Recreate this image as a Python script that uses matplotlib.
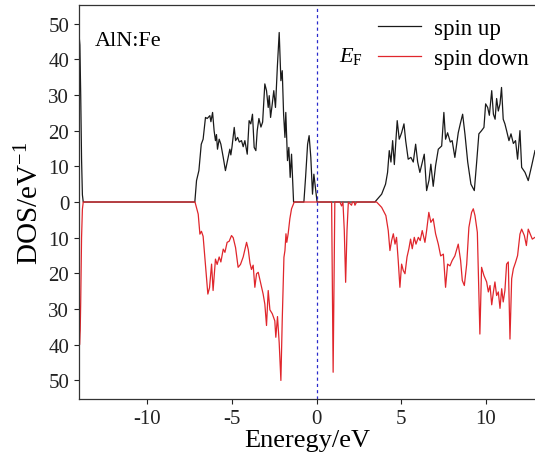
import matplotlib
matplotlib.use('Agg')
import matplotlib.pyplot as plt
from matplotlib.ticker import FuncFormatter

plt.rcParams['font.family'] = ['Liberation Serif', 'DejaVu Serif']
plt.rcParams['mathtext.fontset'] = 'custom'
plt.rcParams['mathtext.rm'] = 'Liberation Serif'
plt.rcParams['mathtext.it'] = 'Liberation Serif:italic'
plt.rcParams['axes.unicode_minus'] = False

# spin up DOS
e_up = [-14.05, -14.0, -13.95, -13.9, -13.85, -13.8, -7.2, -7.10, -6.96, -6.82, -6.71, -6.57,
        -6.47, -6.31, -6.25, -6.15, -6.06, -5.98, -5.92, -5.86, -5.76, -5.66, -5.52, -5.39,
        -5.23, -5.13, -5.07, -5.0, -4.87, -4.79, -4.67, -4.57, -4.44, -4.34, -4.24, -4.10,
        -3.99, -3.89, -3.79, -3.69, -3.59, -3.51, -3.41, -3.29, -3.19, -3.06, -2.96, -2.86,
        -2.80, -2.72, -2.62, -2.53, -2.43, -2.32, -2.21, -2.11, -2.03, -1.95, -1.87, -1.82,
        -1.72, -1.64, -1.56, -1.48, -1.36, -0.75, -0.65, -0.53, -0.44, -0.34, -0.24, -0.16,
        -0.06, 0.03, 3.45, 3.85, 4.08, 4.20, 4.30, 4.40, 4.50, 4.60, 4.77, 4.89, 5.03, 5.17,
        5.27, 5.42, 5.58, 5.72, 5.86, 5.98, 6.11, 6.37, 6.51, 6.65, 6.76, 6.90, 7.04, 7.20,
        7.40, 7.53, 7.63, 7.75, 7.91, 8.02, 8.18, 8.38, 8.50, 8.64, 8.78, 8.94, 9.13, 9.33,
        9.47, 9.60, 9.76, 9.90, 10.0, 10.12, 10.22, 10.36, 10.46, 10.56, 10.65, 10.75, 10.85,
        10.94, 11.04, 11.14, 11.24, 11.38, 11.50, 11.64, 11.77, 11.89, 12.03, 12.13, 12.33,
        12.52, 12.72, 12.92]
dos_up = [47, 44, 30, 12, 2, 0, 0, 6.0, 8.8, 16.2, 17.6, 23.7,
          23.4, 24.2, 22.5, 25.1, 20, 17.2, 18.9, 14.8, 17.6, 16.2, 12.5, 8.8,
          12.5, 14.8, 13.2, 15.5, 20.9, 17.2, 18.1, 16.8, 17.2, 15.5, 17.2, 13.4,
          22.8, 21.9, 24.6, 15.3, 14.4, 20, 23.4, 21, 22.4, 33.1, 31.2, 26.5,
          29.8, 23.7, 27.5, 31.2, 26.5, 37.8, 47.5, 34, 36.8, 24.6, 18.1, 25.1,
          11.6, 15.3, 6.9, 13.4, 0, 0, 6.9, 16.2, 18.6, 12.5, 2.2, 7.8,
          3.6, 0, 0, 2.2, 5, 8.3, 14.4, 11.2, 17.2, 10.5, 22.8, 17.6, 19.4, 21.9,
          17.2, 12, 12.5, 11.2, 16.2, 11.2, 8.3, 13.4, 3.2, 6.1, 10.6, 4.4, 10.2, 14.8,
          15.7, 25.1, 17.6, 19.4, 16.8, 17.2, 12.5, 19.4, 21.9, 24.6, 18.9, 11.2, 5, 3.2,
          11.2, 19.1, 20, 20.9, 27.5, 26.5, 24.3, 31.2, 24.6, 23.2, 29, 25.5, 27.5,
          32.1, 23.2, 21.9, 20, 17.2, 19.1, 16.4, 17.2, 12, 20, 9.7, 8.3,
          6, 10.1, 14.4]

# spin down DOS (plotted downwards)
e_dn = [-14.05, -14.02, -13.98, -13.95, -13.9, -13.85, -13.8, -7.19, -7.0, -6.90, -6.81, -6.71,
        -6.59, -6.43, -6.33, -6.21, -6.12, -5.98, -5.88, -5.76, -5.66, -5.52, -5.42, -5.29,
        -5.17, -5.03, -4.93, -4.79, -4.64, -4.50, -4.34, -4.14, -4.04, -3.94, -3.85, -3.75,
        -3.65, -3.55, -3.45, -3.29, -3.16, -3.06, -2.96, -2.86, -2.76, -2.62, -2.47, -2.41,
        -2.31, -2.21, -2.11, -2.03, -1.93, -1.87, -1.81, -1.76, -1.68, -1.58, -1.48, -1.32,
        0.89, 0.98, 1.08, 1.38, 1.48, 1.56, 1.64, 1.72, 1.80, 1.88, 2.07, 2.12, 2.22, 2.27,
        2.37, 3.55, 3.85, 4.00, 4.10, 4.24, 4.34, 4.44, 4.54, 4.64, 4.73, 4.83, 4.93, 5.03,
        5.13, 5.23, 5.35, 5.46, 5.56, 5.66, 5.78, 5.88, 6.02, 6.13, 6.25, 6.41, 6.51, 6.64,
        6.76, 6.90, 7.04, 7.20, 7.34, 7.50, 7.63, 7.75, 7.89, 8.02, 8.18, 8.38, 8.52, 8.62,
        8.74, 8.88, 9.01, 9.17, 9.27, 9.37, 9.51, 9.66, 9.76, 9.90, 10.06, 10.16, 10.26,
        10.36, 10.46, 10.55, 10.65, 10.75, 10.85, 10.95, 11.04, 11.14, 11.24, 11.34, 11.44,
        11.54, 11.64, 11.77, 11.89, 12.03, 12.13, 12.29, 12.41, 12.52, 12.64, 12.76, 12.92]
dos_dn = [-30, -40, -36, -28, -10, -2, 0, 0, -3.4, -9.0, -8.2, -9.6,
          -16.4, -25.8, -24, -17.4, -24.8, -16, -17.5, -15.4, -16.8, -13.2, -14.1, -11.3,
          -11, -9.4, -10.0, -12.8, -18.3, -17.5, -15.4, -11.3, -13.3, -17.1, -18.9, -17.7,
          -23.9, -20.1, -19.7, -23.1, -25.8, -28.6, -34.6, -24.8, -30.2, -31.3, -33.3, -37.9,
          -32.1, -39.5, -50, -33, -15.5, -13.6, -8.9, -11.3, -8.9, -4.7, -1.9, 0,
          0, -47.7, 0, 0, -1.1, 0, -8, -22.5, -8, 0, -0.9, 0, 0, -0.9,
          0, 0, -1.5, -2.9, -3.8, -8, -13.6, -10.8, -8.9, -11.8, -9.9, -16.4, -23.9, -17.4,
          -19.2, -20.1, -15.4, -13.1, -10.4, -13.1, -9.9, -11.8, -9.9, -10.8, -8, -11.3, -8, -2.9,
          -5.7, -4.7, -8.9, -11.8, -15.1, -14.6, -23.9, -17.4, -17.9, -16.4, -15.1, -11.8, -16.4, -22,
          -23.4, -17.4, -7.1, -2.9, -1.9, -3.8, -8.5, -37, -18.3, -20.6, -22.4, -25.2, -23.4,
          -28.8, -25.2, -22.4, -26.2, -25.2, -29.8, -24.3, -28, -24.8, -17.4, -16.8, -38.4,
          -21.5, -18.7, -16.9, -15, -9, -7.6, -9.4, -12.2, -7.6, -9, -10.4, -9.9]

yticks = [-50, -40, -30, -20, -10, 0, 10, 20, 30, 40, 50]
xticks = [-10, -5, 0, 5, 10]

fig = plt.figure(figsize=(5.35, 4.56), dpi=100)
ax = fig.add_axes([0.1477, 0.1228, 0.8523, 0.864])

ax.plot(e_up, dos_up, color='#1a1a1a', lw=0.9, label='spin up')
ax.plot(e_dn, dos_dn, color='#e0262c', lw=0.9, label='spin down')
ax.axvline(0, color='#2a2acc', ls=(0, (2.5, 2.5)), lw=0.9)

ax.set_xlim(-14.05, 12.92)
ax.set_ylim(-55.2, 55.2)
ax.set_xticks(xticks)
ax.set_yticks(yticks)
ax.yaxis.set_major_formatter(FuncFormatter(lambda v, p: f'{abs(v):.0f}'))
ax.tick_params(direction='out', length=3.5, width=0.8, labelsize=15, colors='#222222')
ax.spines['right'].set_visible(False)
for s in ['left', 'bottom', 'top']:
    ax.spines[s].set_color('#333333')
    ax.spines[s].set_linewidth(0.9)

ax.set_xlabel('Eneregy/eV', fontsize=19, labelpad=1)
ax.set_ylabel(r'DOS/eV$^{\mathrm{-1}}$', fontsize=21, labelpad=3)

ax.text(0.035, 0.91, 'AlN:Fe', transform=ax.transAxes, fontsize=16, va='center')
ax.text(1.35, 39.5, r'$E_{\mathrm{F}}$', fontsize=16, va='baseline')

ax.legend(loc='upper left', bbox_to_anchor=(0.655, 0.968), frameon=False, fontsize=16.5,
          handlelength=1.9, handletextpad=0.55, labelspacing=0.4, borderpad=0,
          borderaxespad=0)

fig.savefig('out.png', dpi=100)
